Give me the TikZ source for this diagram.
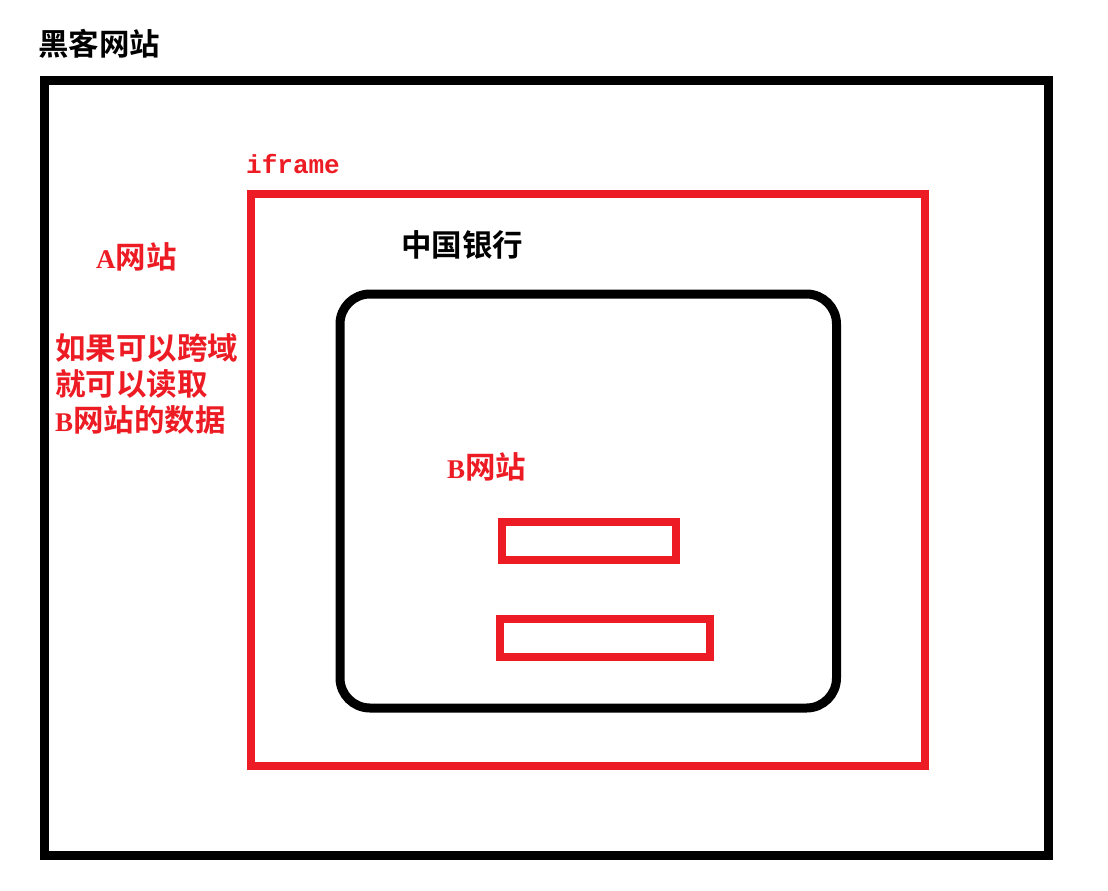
\documentclass[tikz,border=0pt]{standalone}
\usepackage{fontspec}
\newfontfamily\cjk{Noto Sans CJK SC}[BoldFont={Noto Sans CJK SC Bold}]
\newfontfamily\latserif{Liberation Serif}
\newfontfamily\latmono{Liberation Mono}
\definecolor{pred}{RGB}{237,28,36}
\newcommand{\latA}[1]{{\fontsize{27bp}{32bp}\selectfont\latserif\bfseries #1}}
\tikzset{
  blackbox/.style={draw=black, line width=9bp},
  redbox/.style={draw=pred, line width=8bp},
  fieldbox/.style={draw=pred, line width=8.5bp},
  blacklabel/.style={inner sep=0pt, text=black, font=\fontsize{30.5bp}{34bp}\selectfont\cjk\bfseries},
  redlabel/.style={inner sep=0pt, text=pred, font=\fontsize{30.5bp}{36bp}\selectfont\cjk\bfseries},
}
\begin{document}
\begin{tikzpicture}[x=1bp,y=-1bp]
\useasboundingbox[fill=white] (0,0) rectangle (1108,891);
% boxes
\draw[blackbox] (44.5,80) rectangle (1048,855);
\draw[redbox] (250.5,194) rectangle (925,765.5);
\draw[blackbox, rounded corners=30bp] (340,294) rectangle (836.5,708);
\draw[fieldbox] (502,522) rectangle (676,560);
\draw[fieldbox] (500,619) rectangle (710,657);
% labels
\node[blacklabel, anchor=west] (hacker) at (38,44) {黑客网站};
\node[inner sep=0pt, text=pred, anchor=base west, font=\fontsize{26bp}{30bp}\selectfont\latmono\bfseries] (iframe) at (246,173) {iframe};
\node[redlabel, anchor=west] (asite) at (96,257) {\latA{A}网站};
\node[redlabel, anchor=west, align=left] (note) at (55,384) {如果可以跨域\\就可以读取\\\latA{B}网站的数据};
\node[blacklabel, anchor=west] (boc) at (401,245) {中国银行};
\node[redlabel, anchor=west] (bsite) at (447,467) {\latA{B}网站};
\end{tikzpicture}
\end{document}
